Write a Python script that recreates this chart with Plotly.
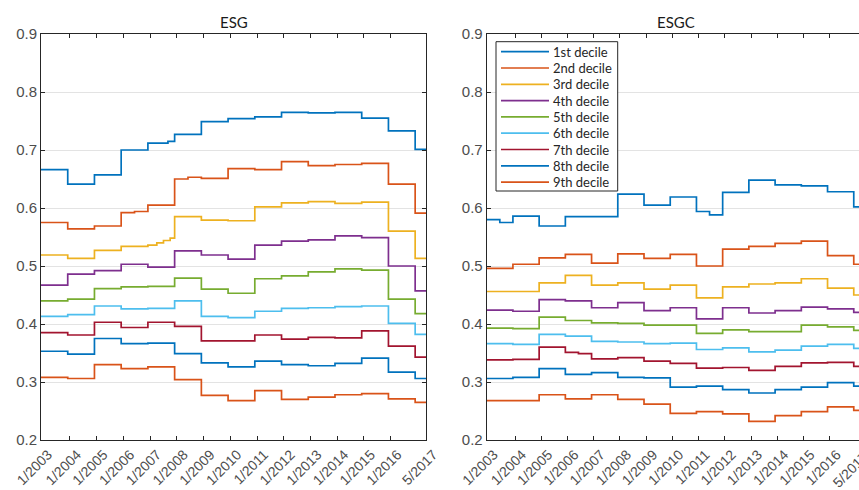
import plotly.graph_objects as go

# ---------------- data ----------------
TICK_MONTHS = [0, 13, 25, 37, 49, 61, 73, 85, 97, 109, 121, 133, 145, 157, 173]
TICK_LABELS = ["1/2003", "1/2004", "1/2005", "1/2006", "1/2007", "1/2008", "1/2009",
               "1/2010", "1/2011", "1/2012", "1/2013", "1/2014", "1/2015", "1/2016", "5/2017"]
YEAR_STARTS = [0, 12, 24, 36, 48, 60, 72, 84, 96, 108, 120, 132, 144, 156, 168]
END_MONTH = 173

DECILES = ["1st decile", "2nd decile", "3rd decile", "4th decile", "5th decile",
           "6th decile", "7th decile", "8th decile", "9th decile"]
COLORS = ["#0072BD", "#D95319", "#EDB120", "#7E2F8E", "#77AC30",
          "#4DBEEE", "#A2142F", "#0072BD", "#D95319"]

# yearly levels (one value per YEAR_STARTS segment)
ESG_1 = [0.666, 0.641, 0.657, 0.700, 0.712, 0.727, 0.749, 0.754, 0.757, 0.765, 0.764, 0.765, 0.755, 0.733, 0.701]
ESG_2 = [0.575, 0.564, 0.569, 0.592, 0.605, 0.650, 0.651, 0.668, 0.666, 0.680, 0.673, 0.675, 0.677, 0.641, 0.591]
ESG_3 = [0.519, 0.513, 0.527, 0.534, 0.536, 0.585, 0.579, 0.578, 0.602, 0.609, 0.611, 0.608, 0.610, 0.560, 0.513]
ESG_4 = [0.467, 0.486, 0.492, 0.503, 0.498, 0.526, 0.519, 0.512, 0.536, 0.543, 0.545, 0.552, 0.549, 0.500, 0.457]
ESG_5 = [0.440, 0.443, 0.461, 0.464, 0.465, 0.479, 0.460, 0.453, 0.478, 0.483, 0.490, 0.495, 0.493, 0.443, 0.418]
ESG_6 = [0.413, 0.416, 0.431, 0.426, 0.427, 0.440, 0.413, 0.411, 0.422, 0.427, 0.428, 0.430, 0.431, 0.401, 0.382]
ESG_7 = [0.385, 0.381, 0.403, 0.394, 0.403, 0.396, 0.371, 0.371, 0.381, 0.374, 0.377, 0.376, 0.388, 0.362, 0.343]
ESG_8 = [0.353, 0.348, 0.375, 0.366, 0.367, 0.349, 0.333, 0.326, 0.336, 0.330, 0.328, 0.332, 0.341, 0.317, 0.306]
ESG_9 = [0.308, 0.306, 0.330, 0.323, 0.326, 0.304, 0.277, 0.268, 0.285, 0.270, 0.274, 0.278, 0.280, 0.271, 0.265]

ESGC_1 = [0.580, 0.586, 0.569, 0.585, 0.585, 0.624, 0.605, 0.619, 0.594, 0.627, 0.648, 0.640, 0.638, 0.628, 0.602]
ESGC_2 = [0.496, 0.503, 0.514, 0.520, 0.505, 0.521, 0.513, 0.520, 0.500, 0.529, 0.534, 0.539, 0.543, 0.518, 0.503]
ESGC_3 = [0.456, 0.456, 0.471, 0.484, 0.467, 0.471, 0.460, 0.467, 0.445, 0.464, 0.469, 0.471, 0.478, 0.462, 0.450]
ESGC_4 = [0.424, 0.422, 0.442, 0.440, 0.428, 0.437, 0.423, 0.428, 0.409, 0.428, 0.419, 0.423, 0.429, 0.426, 0.420]
ESGC_5 = [0.393, 0.392, 0.412, 0.406, 0.402, 0.401, 0.398, 0.398, 0.384, 0.390, 0.387, 0.387, 0.398, 0.395, 0.389]
ESGC_6 = [0.366, 0.365, 0.382, 0.379, 0.370, 0.369, 0.366, 0.367, 0.356, 0.359, 0.352, 0.355, 0.362, 0.365, 0.358]
ESGC_7 = [0.338, 0.339, 0.360, 0.351, 0.340, 0.342, 0.336, 0.332, 0.324, 0.325, 0.320, 0.327, 0.333, 0.334, 0.327]
ESGC_8 = [0.306, 0.308, 0.323, 0.313, 0.316, 0.308, 0.307, 0.291, 0.293, 0.287, 0.281, 0.287, 0.291, 0.299, 0.293]
ESGC_9 = [0.268, 0.268, 0.278, 0.271, 0.278, 0.270, 0.262, 0.246, 0.249, 0.245, 0.232, 0.242, 0.249, 0.257, 0.251]

# mid-year level changes: (month, value)
ESG_MID = {
    0: [(57, 0.715)],
    1: [(42, 0.594), (66, 0.653)],
    2: [(52, 0.540), (55, 0.544), (58, 0.548)],
}
ESGC_MID = {
    0: [(6, 0.575), (102, 0.588)],
    6: [(42, 0.349)],
}

ESG = [ESG_1, ESG_2, ESG_3, ESG_4, ESG_5, ESG_6, ESG_7, ESG_8, ESG_9]
ESGC = [ESGC_1, ESGC_2, ESGC_3, ESGC_4, ESGC_5, ESGC_6, ESGC_7, ESGC_8, ESGC_9]


def steps(levels, mids):
    pts = list(zip(YEAR_STARTS, levels)) + list(mids)
    pts.sort(key=lambda p: p[0])
    xs = [p[0] for p in pts] + [END_MONTH]
    ys = [p[1] for p in pts] + [pts[-1][1]]
    return xs, ys


fig = go.Figure()
for i, lv in enumerate(ESG):
    xs, ys = steps(lv, ESG_MID.get(i, []))
    fig.add_trace(go.Scatter(x=xs, y=ys, mode="lines", line_shape="hv",
                             line=dict(color=COLORS[i], width=1.7),
                             name=DECILES[i], showlegend=False,
                             xaxis="x", yaxis="y"))
for i, lv in enumerate(ESGC):
    xs, ys = steps(lv, ESGC_MID.get(i, []))
    fig.add_trace(go.Scatter(x=xs, y=ys, mode="lines", line_shape="hv",
                             line=dict(color=COLORS[i], width=1.7),
                             name=DECILES[i], showlegend=False,
                             xaxis="x2", yaxis="y2"))

AX = "#262626"
YTICKFONT = dict(family="Liberation Sans, Arial, sans-serif", size=15, color="#4d4d4d")
XTICKFONT = dict(family="Liberation Sans, Arial, sans-serif", size=14, color="#4d4d4d")

xcommon = dict(tickmode="array", tickvals=TICK_MONTHS, ticktext=TICK_LABELS,
               tickangle=-45, ticks="inside", ticklen=4, tickcolor=AX,
               ticklabelshift=7, ticklabelstandoff=0, automargin=False,
               showline=True, linecolor=AX, linewidth=1, mirror="ticks",
               showgrid=False, zeroline=False, tickfont=XTICKFONT)
ycommon = dict(range=[0.2, 0.9], tickmode="array",
               tickvals=[0.2, 0.3, 0.4, 0.5, 0.6, 0.7, 0.8, 0.9],
               ticktext=["0.2", "0.3", "0.4", "0.5", "0.6", "0.7", "0.8", "0.9"],
               ticks="inside", ticklen=4, tickcolor=AX, automargin=False,
               showline=True, linecolor=AX, linewidth=1,
               showgrid=True, gridcolor="#e3e3e3", gridwidth=1,
               zeroline=False, tickfont=YTICKFONT)

W, H = 859, 490
ML, MR, MT, MB = 41, 0, 34, 50
PW, PH = W - ML - MR, H - MT - MB


def px_x(p):
    return (p - ML) / PW


def px_y(p):
    return (H - MB - p) / PH


left_end = px_x(426.3)
right_start = px_x(486.7)

fig.update_layout(
    width=W, height=H,
    margin=dict(l=ML, r=MR, t=MT, b=MB),
    paper_bgcolor="white", plot_bgcolor="white",
    xaxis=dict(xcommon, domain=[0, left_end], range=[0, END_MONTH]),
    yaxis=dict(ycommon, mirror="ticks"),
    xaxis2=dict(xcommon, domain=[right_start, 1.0], range=[0, 170.4], anchor="y2"),
    yaxis2=dict(ycommon, mirror=False, anchor="x2"),
    showlegend=False,
)

TITLEFONT = dict(family="Lato, sans-serif", size=15, color="#1a1a1a")
fig.add_annotation(text="ESG", xref="paper", yref="paper", x=left_end / 2, y=px_y(22),
                   showarrow=False, xanchor="center", yanchor="middle", font=TITLEFONT)
fig.add_annotation(text="ESGC", xref="paper", yref="paper", x=(right_start + px_x(864.7)) / 2,
                   y=px_y(22), showarrow=False, xanchor="center", yanchor="middle", font=TITLEFONT)
# last tick label of the right panel, which falls past the visible edge
fig.add_annotation(text="5/2017", xref="paper", yref="paper", x=px_x(850), y=px_y(470),
                   showarrow=False, xanchor="center", yanchor="middle", textangle=-45, font=XTICKFONT)

# legend box for the ESGC panel
LEG_LEFT, LEG_RIGHT, LEG_TOP, LEG_BOTTOM = 496, 617.7, 41.7, 191
LEG_ROW0, LEG_ROW_STEP = 51.7, 16.3
fig.add_shape(type="rect", xref="paper", yref="paper",
              x0=px_x(LEG_LEFT), x1=px_x(LEG_RIGHT), y0=px_y(LEG_BOTTOM), y1=px_y(LEG_TOP),
              line=dict(color=AX, width=1), fillcolor="white", layer="above")
LEGFONT = dict(family="Lato, sans-serif", size=13, color="#262626")
for i, name in enumerate(DECILES):
    yy = px_y(LEG_ROW0 + i * LEG_ROW_STEP)
    fig.add_shape(type="line", xref="paper", yref="paper",
                  x0=px_x(501), x1=px_x(549), y0=yy, y1=yy,
                  line=dict(color=COLORS[i], width=1.7), layer="above")
    fig.add_annotation(text=name, xref="paper", yref="paper", x=px_x(551), y=yy,
                       showarrow=False, xanchor="left", yanchor="middle", font=LEGFONT)

fig.write_html("out.html")
